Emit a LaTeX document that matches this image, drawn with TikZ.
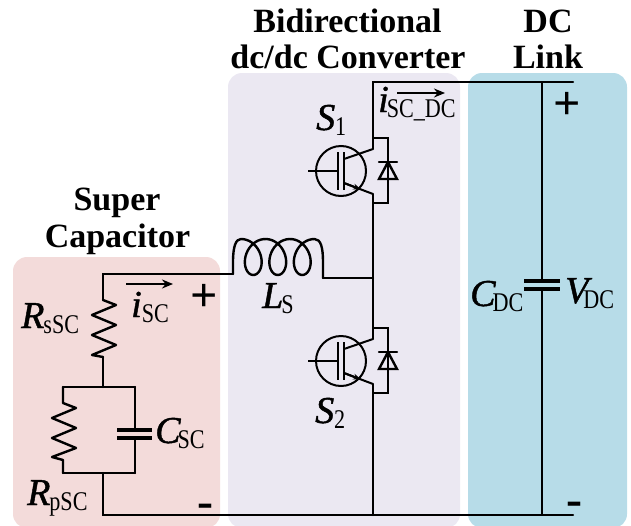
\documentclass[tikz,border=0pt]{standalone}
\usepackage{fontspec}
\setmainfont{Liberation Serif}
\newfontfamily\mainitfont[ItalicFeatures={FakeBold=1.2}]{Liberation Serif}
\newfontfamily\subfont[FakeStretch=0.82]{Liberation Serif}
\usetikzlibrary{arrows.meta}
\definecolor{scred}{HTML}{F3DBDA}
\definecolor{convpurple}{HTML}{EBE8F2}
\definecolor{linkblue}{HTML}{B7DCE8}
\newcommand{\mainlab}[3][0pt]{{\fontsize{38}{38}\mainitfont\itshape #2}\kern#1\raisebox{-5pt}{\fontsize{27}{27}\subfont #3}}
\newcommand{\headlab}[1]{{\fontsize{34}{36}\selectfont\bfseries #1}}
\tikzset{
  panel/.style={rounded corners=14pt,draw=none},
  wire/.style={line width=2.4pt,line join=miter,line cap=round},
  thin wire/.style={line width=2pt},
  labelnode/.style={inner sep=0pt,anchor=base west},
  head/.style={inner sep=0pt,anchor=base,align=center},
  flow/.style={line width=1.8pt,-{Stealth[length=11pt,width=9pt]}},
  sign/.style={inner sep=0pt,font=\fontsize{48}{48}\selectfont\bfseries},
  pics/igbt/.style={code={
    \draw[line width=2pt] (0,0) circle (25);
    \draw[line width=2pt] (-33,0) -- (-3.5,0);
    \draw[line width=2pt] (-3.5,-19) -- (-3.5,19);
    \draw[line width=2pt] (3,-19) -- (3,19);
    \draw[line width=2pt] (3,-12) -- (32,-22);
    \draw[line width=2pt] (3,12) -- (32,23);
    \draw[line width=2pt,-{Stealth[length=8pt,width=6pt]}] (3,12) -- (20,18.5);
    \draw[wire] (32,-22) -- (32,-33) -- (47,-33) -- (47,32) -- (32,32) -- (32,23);
    \draw[wire,fill=none] (47,-9) -- (38,8) -- (56,8) -- cycle;
    \draw[wire] (38,-9) -- (56,-9);
  }}
}
\begin{document}
\begin{tikzpicture}[x=1pt,y=-1pt]
\useasboundingbox (0,0) rectangle (631,525);
% panels
\fill[panel,scred] (13,257) rectangle (220,528);
\fill[panel,convpurple] (228,73) rectangle (460,528);
\fill[panel,linkblue] (468,73) rectangle (627,528);
% headings
\node[head] (hsc1) at (117,210) {\headlab{Super}};
\node[head] (hsc2) at (117.5,247) {\headlab{Capacitor}};
\node[head] (hconv1) at (347.5,32) {\headlab{Bidirectional}};
\node[head] (hconv2) at (348,68) {\headlab{dc/dc Converter}};
\node[head] (hdc1) at (548,32) {\headlab{DC}};
\node[head] (hdc2) at (548,68) {\headlab{Link}};
% key points
\coordinate (sctop) at (103,274);
\coordinate (indin) at (233,274);
\coordinate (indout) at (323,278);
\coordinate (mid) at (373,278);
\coordinate (bustl) at (373,82);
\coordinate (bustr) at (573,82);
\coordinate (dctop) at (542,82);
\coordinate (dcbot) at (542,515);
\coordinate (busbl) at (103,515);
\coordinate (busbr) at (573,515);
\coordinate (s1top) at (373,138);
\coordinate (s1bot) at (373,203);
\coordinate (s2top) at (373,328);
\coordinate (s2bot) at (373,393);
\coordinate (rsstart) at (103,300);
\coordinate (rsend) at (103,357);
\coordinate (pt) at (103,387);
\coordinate (pb) at (103,473);
\coordinate (ptl) at (63,387);
\coordinate (ptr) at (135,387);
\coordinate (pbl) at (63,473);
\coordinate (pbr) at (135,473);
% wires
\draw[wire] (rsstart) -- (sctop) -- (indin);
\draw[wire] (rsend) -- (pt);
\draw[wire] (ptl) -- (ptr);
\draw[wire] (pbl) -- (pbr);
\draw[wire] (pb) -- (busbl) -- (busbr);
\draw[wire] (s1top) -- (bustl) -- (bustr);
\draw[wire] (s1bot) -- (s2top);
\draw[wire] (s2bot) -- (373,515);
\draw[wire] (indout) -- (mid);
\draw[thin wire] (dctop) -- (542,281);
\draw[thin wire] (542,289) -- (dcbot);
% series resistor
\draw[wire,line join=round] (rsstart) -- (116,305) -- (92,315) -- (116,325) -- (92,335) -- (116,345) -- (92,355) -- (rsend);
% parallel resistor
\draw[wire,line join=round] (ptl) -- (63,403) -- (76,408) -- (52,418) -- (76,428) -- (52,438) -- (76,448) -- (52,457) -- (63,460) -- (pbl);
% parallel capacitor
\draw[wire] (ptr) -- (135,430);
\draw[wire] (135,438) -- (pbr);
\draw[line width=3.2pt] (117,430) -- (152,430);
\draw[line width=3.2pt] (117,438) -- (152,438);
% dc capacitor
\draw[line width=3.2pt] (524,281) -- (560,281);
\draw[line width=3.2pt] (524,289) -- (560,289);
% inductor
\draw[wire,line join=round] (indin) -- (233,262) .. controls (233,246) and (236,239) .. (241,239)
  plot[smooth,domain=0:18.85,samples=120,variable=\t] ({241+3.9*\t+14*sin(\t r)},{257-18*cos(\t r)})
  .. controls (321,239) and (323,248) .. (323,262) -- (indout);
% switches
\pic at (341,171) {igbt};
\pic at (341,361) {igbt};
% current arrows
\coordinate (ia) at (126,284);
\coordinate (ib) at (173,284);
\coordinate (ja) at (397,93);
\coordinate (jb) at (445,93);
\draw[flow] (ia) -- (ib);
\draw[flow] (ja) -- (jb);
% labels
\node[labelnode] (rs) at (21,328) {\mainlab[-1pt]{R}{sSC}};
\node[labelnode] (rp) at (27,505) {\mainlab[-1pt]{R}{pSC}};
\node[labelnode] (cs) at (155,443) {\mainlab[-3pt]{C}{SC}};
\node[labelnode] (ls) at (262,308) {\mainlab[-2pt]{L}{S}};
\node[labelnode] (s1) at (316,130) {\mainlab[0pt]{S}{1}};
\node[labelnode] (s2) at (315,423) {\mainlab[0pt]{S}{2}};
\node[labelnode] (is) at (131,317) {\mainlab[0pt]{i}{SC}};
\node[labelnode] (isd) at (378,112) {\mainlab[-2pt]{i}{SC\_DC}};
\node[labelnode] (cd) at (470,306) {\mainlab[-3pt]{C}{DC}};
\node[labelnode] (vd) at (565,303) {\mainlab[-5pt]{V}{DC}};
% polarity
\node[sign] (p1) at (204,298) {+};
\node[sign] (p2) at (567,106) {+};
\node[sign] (m1) at (205,511) {-};
\node[sign] (m2) at (574,509) {-};
\end{tikzpicture}
\end{document}
